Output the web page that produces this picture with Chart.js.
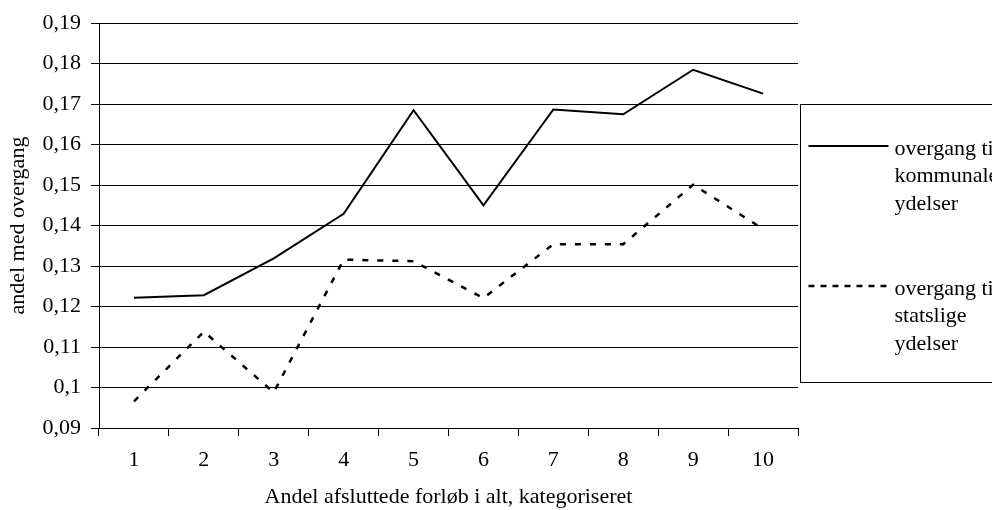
<!DOCTYPE html>
<html>
<head>
<meta charset="utf-8">
<script src="https://cdn.jsdelivr.net/npm/chart.js@4"></script>
<style>
  html, body { margin: 0; padding: 0; background: #fff; }
  #wrap { width: 992px; height: 510px; position: relative; }
</style>
</head>
<body>
<div id="wrap"><canvas id="chart"></canvas></div>
<script>
/* ================= DATA ================= */
const categories = ["1", "2", "3", "4", "5", "6", "7", "8", "9", "10"];
const kommunale = [0.1222, 0.1228, 0.1319, 0.1429, 0.1685, 0.1450, 0.1687, 0.1675, 0.1785, 0.1726];
const statslige = [0.0966, 0.1138, 0.0988, 0.1316, 0.1312, 0.1221, 0.1354, 0.1354, 0.1501, 0.1392];
const seriesNames = ["overgang til kommunale ydelser", "overgang til statslige ydelser"];
const legendLines = [["overgang til", "kommunale", "ydelser"], ["overgang til", "statslige", "ydelser"]];
const yMin = 0.09, yMax = 0.19, yStep = 0.01;
const xTitle = "Andel afsluttede forløb i alt, kategoriseret";
const yTitle = "andel med overgang";

const FONT = "'Liberation Serif', 'Times New Roman', serif";
const FS = 22;

// 0.19 -> "0,19", 0.1 -> "0,1"
function fmt(v) {
    let s = v.toFixed(2).replace(/0+$/, "");
    if (s.endsWith(".")) s = s.slice(0, -1);
    return s.replace(".", ",");
}

/* ================= LEGEND BOX ================= */
const legendBox = {
    id: "legendBox",
    afterDraw(chart) {
        const ctx = chart.ctx;
        const area = chart.chartArea;
        const x0 = area.right + 2.5;
        const top = 104.5, h = 278;
        ctx.save();
        ctx.strokeStyle = "#000";
        ctx.lineWidth = 1;
        ctx.strokeRect(x0, top, 400, h);

        const rows = [146, 286];
        chart.data.datasets.forEach((ds, i) => {
            const y = rows[i];
            ctx.beginPath();
            ctx.setLineDash(i === 0 ? [] : [6, 6]);
            ctx.lineWidth = ds.borderWidth;
            ctx.strokeStyle = ds.borderColor;
            ctx.moveTo(x0 + 8, y);
            ctx.lineTo(x0 + 88, y);
            ctx.stroke();
            ctx.setLineDash([]);

            ctx.fillStyle = "#000";
            ctx.font = FS + "px " + FONT;
            ctx.textBaseline = "middle";
            ctx.textAlign = "left";
            legendLines[i].forEach((t, j) => {
                ctx.fillText(t, x0 + 94, y + 3 + j * 27.5);
            });
        });
        ctx.restore();
    }
};

/* ================= CHART ================= */
new Chart(document.getElementById("chart"), {
    type: "line",
    data: {
        labels: categories,
        datasets: [
            {
                label: seriesNames[0],
                data: kommunale,
                borderColor: "#000",
                borderWidth: 2,
                pointRadius: 0,
                tension: 0,
                fill: false
            },
            {
                label: seriesNames[1],
                data: statslige,
                borderColor: "#000",
                borderWidth: 2.5,
                borderDash: [6, 9],
                pointRadius: 0,
                tension: 0,
                fill: false
            }
        ]
    },
    options: {
        responsive: true,
        maintainAspectRatio: false,
        animation: false,
        layout: { padding: { top: 23, right: 194, left: 0, bottom: 0 } },
        plugins: {
            legend: { display: false },
            tooltip: { enabled: false }
        },
        scales: {
            x: {
                offset: true,
                grid: {
                    display: true,
                    offset: true,
                    drawOnChartArea: false,
                    color: "#000",
                    tickLength: 8
                },
                border: { color: "#000", width: 1 },
                ticks: {
                    color: "#000",
                    font: { family: FONT, size: FS },
                    padding: 11,
                    maxRotation: 0
                },
                title: {
                    display: true,
                    text: xTitle,
                    color: "#000",
                    font: { family: FONT, size: FS },
                    padding: { top: 0, bottom: 0 }
                },
                afterFit(scale) { scale.height = 82; }
            },
            y: {
                min: yMin,
                max: yMax,
                grid: {
                    color: "#000",
                    lineWidth: 1,
                    tickLength: 8
                },
                border: { color: "#000", width: 1 },
                ticks: {
                    stepSize: yStep,
                    color: "#000",
                    font: { family: FONT, size: FS },
                    padding: 10,
                    callback: v => fmt(v)
                },
                title: {
                    display: true,
                    text: yTitle,
                    color: "#000",
                    font: { family: FONT, size: FS },
                    padding: { top: 5, bottom: 0 }
                },
                afterFit(scale) { scale.width = 99; }
            }
        }
    },
    plugins: [legendBox]
});
</script>
</body>
</html>
